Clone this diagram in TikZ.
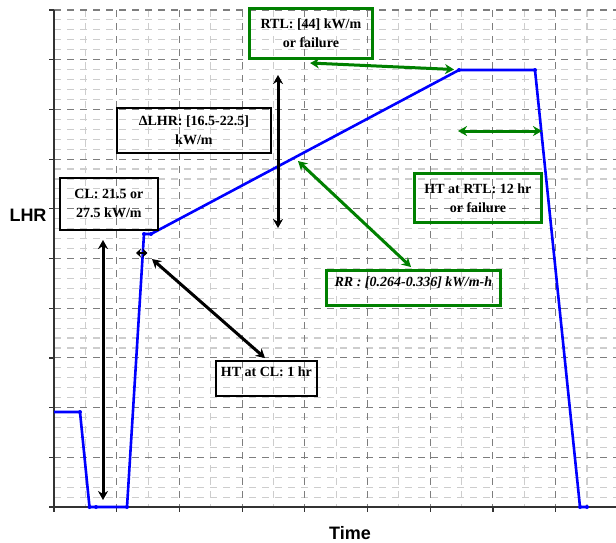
\documentclass[tikz,border=0pt]{standalone}
\usepackage{fontspec}
\setmainfont{Liberation Serif}
\newfontfamily\labfont{Liberation Sans}
\usetikzlibrary{arrows.meta}
\definecolor{gblue}{RGB}{0,0,255}
\definecolor{ggreen}{RGB}{0,128,0}
\definecolor{gmajor}{RGB}{125,125,125}
\definecolor{gminor}{RGB}{205,205,205}
\tikzset{
  minorgrid/.style={draw=gminor, line width=1.1pt, dash pattern=on 7pt off 6pt},
  majorgrid/.style={draw=gmajor, line width=1.1pt, dash pattern=on 7pt off 6pt},
  axisline/.style={draw=black!80, line width=1.2pt},
  curve/.style={draw=gblue, line width=2.6pt, line join=round},
  vtx/.style={fill=gblue, draw=none},
  blkarrow/.style={draw=black, line width=3pt, {Stealth[length=9pt,width=10pt]}-{Stealth[length=9pt,width=10pt]}},
  smallarrow/.style={draw=black, line width=2.6pt, {Stealth[length=5pt,width=9pt]}-{Stealth[length=5pt,width=9pt]}},
  grnarrow/.style={draw=ggreen, line width=3pt, {Stealth[length=9pt,width=10pt]}-{Stealth[length=9pt,width=10pt]}},
  boxtext/.style={font=\fontsize{14}{19}\selectfont\bfseries, align=center, inner sep=0pt, anchor=north west},
  blkbox/.style={boxtext, draw=black, line width=1.8pt},
  grnbox/.style={boxtext, draw=ggreen, line width=2.8pt},
  axlabel/.style={font=\fontsize{18}{20}\selectfont\labfont\bfseries}
}
\begin{document}
\begin{tikzpicture}[x=1pt,y=-1pt]
\useasboundingbox (0,0) rectangle (616,542);
% grid
\foreach \j in {1,...,49} \draw[minorgrid] (54,{10+9.94*\j}) -- (616,{10+9.94*\j});
\foreach \k in {1,3,...,17} \draw[minorgrid] ({54+31.35*\k},10) -- ({54+31.35*\k},507);
\foreach \j in {0,...,9} \draw[majorgrid] (54,{10+49.7*\j}) -- (616,{10+49.7*\j});
\foreach \k in {2,4,...,16} \draw[majorgrid] ({54+31.35*\k},10) -- ({54+31.35*\k},507);
% axes
\draw[axisline] (54,10) -- (54,507) -- (616,507);
\foreach \j in {0,...,10} \draw[axisline] (49,{10+49.7*\j}) -- (54,{10+49.7*\j});
\foreach \k in {0,...,8} \draw[axisline] ({54+62.7*\k},507) -- ({54+62.7*\k},512);
% curve
\draw[curve] (54,412) -- (80,412) -- (89.5,507) -- (96,507) -- (127,507) -- (144,234) -- (151,234) -- (459,70) -- (535,70) -- (580,507) -- (587,507);
\foreach \p in {(80,412),(89.5,507),(96,507),(127,507),(144,234),(151,234),(459,70),(535,70),(580,507),(587,507)}
  \fill[vtx] \p circle (2);
% boxes
\node[grnbox, minimum width=123pt, minimum height=50pt] (rtl) at (248,7) {RTL: [44] kW/m\\or failure};
\node[blkbox, minimum width=154pt, minimum height=45pt] (dlhr) at (116,107) {ΔLHR: [16.5-22.5]\\kW/m};
\node[blkbox, minimum width=98pt, minimum height=52pt] (cl) at (59,177) {CL: 21.5 or\\27.5 kW/m};
\node[grnbox, minimum width=127pt, minimum height=49pt] (htrtl) at (413,172) {HT at RTL: 12 hr\\or failure};
\node[grnbox, minimum width=174pt, text height=16pt, text depth=19pt] (rr) at (325,269) {\itshape RR : [0.264-0.336] kW/m-h};
\node[blkbox, minimum width=101pt, text height=16pt, text depth=19pt] (htcl) at (215,360) {HT at CL: 1 hr};
% axis labels
\node[axlabel] (lhr) at (28,215) {LHR};
\node[axlabel] (time) at (350,533) {Time};
% arrow end points
\coordinate (clTop) at (103,240);
\coordinate (clBot) at (103,500);
\coordinate (dTop) at (278,75);
\coordinate (dBot) at (278,228);
\coordinate (hcL) at (136,253);
\coordinate (hcR) at (147.5,253);
\coordinate (hcA) at (152,259);
\coordinate (hcB) at (265,358);
\coordinate (rtlA) at (310,63);
\coordinate (rtlB) at (454,69.5);
\coordinate (htA) at (458,131);
\coordinate (htB) at (542,131);
\coordinate (rrA) at (298,161);
\coordinate (rrB) at (411,267);
% arrows
\draw[blkarrow] (clTop) -- (clBot);
\draw[blkarrow] (dTop) -- (dBot);
\draw[smallarrow] (hcL) -- (hcR);
\draw[blkarrow] (hcA) -- (hcB);
\draw[grnarrow] (rtlA) -- (rtlB);
\draw[grnarrow] (htA) -- (htB);
\draw[grnarrow] (rrA) -- (rrB);
\end{tikzpicture}
\end{document}
